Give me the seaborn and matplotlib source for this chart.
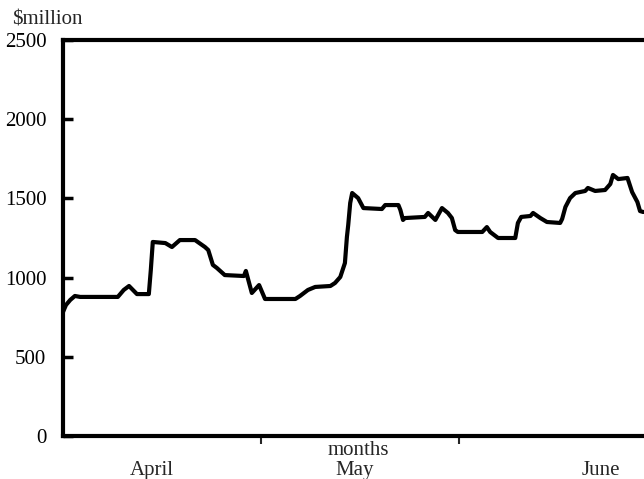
import pandas as pd
import seaborn as sns
import matplotlib
matplotlib.use("Agg")
import matplotlib.pyplot as plt

# Daily values (day 0 = start of April, months ~30 days)
days = [0, 0.45, 1.1, 1.8, 2.6, 8.3, 9.2, 10.0, 11.2, 13.0, 13.3, 13.6,
        15.5, 16.5, 17.7, 20.0, 21.5, 22.0, 22.7, 23.3, 24.5, 27.4, 27.7,
        28.6, 29.7, 30.6, 35.2, 35.9, 37.1, 38.2, 40.5, 41.2, 42.0, 42.7,
        43.0, 43.2, 43.5, 43.8, 44.7, 45.5, 48.3, 48.8, 50.8, 51.1, 51.5,
        51.8, 54.8, 55.3, 56.4, 57.4, 58.3, 58.9, 59.4, 59.8, 63.5, 64.2,
        64.7, 65.9, 68.5, 68.9, 69.4, 70.8, 71.2, 72.3, 73.3, 75.3, 75.6,
        76.1, 76.8, 77.6, 79.1, 79.5, 80.6, 82.1, 82.9, 83.3, 84.1, 85.5,
        86.2, 87.0, 87.4, 87.9]
values = [783, 827, 859, 884, 878, 878, 922, 947, 896, 896, 1048, 1225,
          1218, 1193, 1237, 1237, 1193, 1174, 1080, 1061, 1016, 1010, 1042,
          903, 953, 865, 865, 884, 922, 941, 947, 966, 1004, 1092,
          1256, 1332, 1471, 1534, 1502, 1439, 1433, 1458, 1458, 1427, 1364,
          1376, 1383, 1408, 1364, 1439, 1408, 1376, 1300, 1288, 1288, 1319,
          1288, 1250, 1250, 1345, 1383, 1389, 1408, 1376, 1351, 1345, 1370,
          1446, 1502, 1534, 1547, 1566, 1547, 1553, 1591, 1648, 1622, 1629,
          1540, 1477, 1420, 1414]

month_names = ["April", "May", "June"]
month_label_days = [13.5, 44.1, 81.4]
month_ticks = [30, 60]
y_ticks = [0, 500, 1000, 1500, 2000, 2500]

df = pd.DataFrame({"day": days, "value": values})

sns.set_style("white")
plt.rcParams["font.family"] = ["Liberation Serif", "DejaVu Serif"]

fig = plt.figure(figsize=(6.44, 4.79), dpi=100)
ax = fig.add_axes([63 / 644, 43 / 479, 1 - 63 / 644, 396 / 479])

sns.lineplot(data=df, x="day", y="value", color="black", linewidth=3.0, ax=ax)

ax.set_xlim(0, 88)
ax.set_ylim(0, 2500)
ax.set_yticks(y_ticks)
ax.set_xticks(month_ticks)
ax.set_xticklabels([])
ax.set_xlabel("")
ax.set_ylabel("")

for side in ["left", "bottom", "top"]:
    ax.spines[side].set_linewidth(3.0)
    ax.spines[side].set_color("black")
ax.spines["right"].set_visible(False)

ax.tick_params(axis="y", direction="in", length=7, width=2.5, pad=12,
               labelsize=15, colors="black", left=True)
ax.tick_params(axis="x", direction="out", length=6, width=1.5, bottom=True)

for name, d in zip(month_names, month_label_days):
    ax.text(d, -0.086, name, transform=ax.get_xaxis_transform(),
            ha="center", va="center", fontsize=15)
ax.text(44.8, -0.036, "months", transform=ax.get_xaxis_transform(),
        ha="center", va="center", fontsize=15)

fig.text(12 / 644, 1 - 20 / 479, "\\$million", ha="left", va="center",
         fontsize=15)

plt.savefig("out.png", dpi=100, facecolor="white")
